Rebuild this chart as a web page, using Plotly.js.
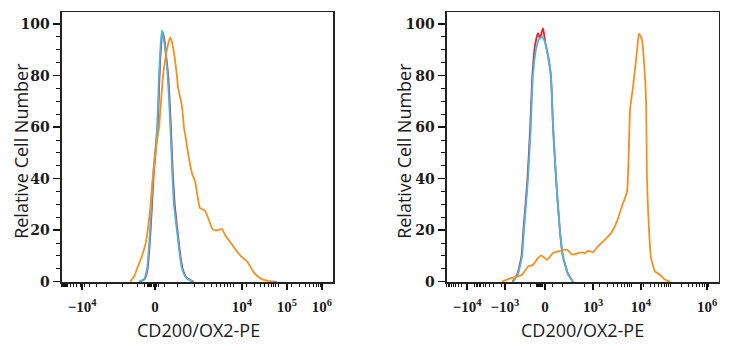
<!DOCTYPE html>
<html>
<head>
<meta charset="utf-8">
<script src="https://cdn.plot.ly/plotly-3.0.1.min.js"></script>
<style>html,body{margin:0;padding:0;background:#fff;}#chart{width:730px;height:350px;}</style>
</head>
<body>
<div id="chart"></div>
<script>
// ---- Data (x in display units of the biexponential axis, 0..100) ----
// Left panel
const leftRedX   = [28.6,30.5,31.6,32.7,33.8,35.3,36.0,36.6,37.1,37.8,38.5,39.2,40.1,40.9,41.6,42.6,43.7,44.5,46.0,48.5];
const leftRedY   = [0,1,5,20,41,60,80,92,97,94,87,80,62,42,30,20,10,5,1.5,0];
const leftBlueX  = [28.4,30.3,31.4,32.5,33.6,35.1,35.8,36.4,36.9,37.6,38.4,39.0,39.9,40.7,41.3,42.4,43.5,44.3,45.8,48.3];
const leftBlueY  = [0,1,5,20,41,60,80,92,97.7,94,87,80,62,42,30,20,10,5,1.5,0];
const leftOrangeX = [25.1,26.6,27.7,29.5,31.0,32.5,33.6,34.7,35.8,37.3,38.7,39.9,40.6,41.3,42.4,42.8,43.5,44.3,45.0,45.8,46.5,48.0,49.1,50.2,50.9,52.0,52.8,53.9,55.7,57.6,59.0,60.5,62.0,64.6,66.4,68.3,70.5,72.3,74.2,76.8,79.3];
const leftOrangeY = [0,2,5,10,15.5,28,41.5,52,60,80,90,94.7,93,89,80,75.6,72,68,60,55,50,42,38.9,32,28.6,28,27.5,24.8,20.2,20,20.5,17.5,15.5,11.7,9.5,7.9,4,2,0.8,0.2,0];
// Right panel
const rightRedX  = [24.1,25.9,27.4,28.1,29.6,30.6,31.4,32.4,33.5,34.2,35.3,36.1,37.1,38.2,39.0,40.1,41.5,42.6,44.5,46.3];
const rightRedY  = [0,3,10,20,40,60,80,92,96.5,94.5,98.4,93,88,80,60,40,20,10,3,0];
const rightBlueX = [24.3,26.1,27.6,28.3,29.8,30.8,31.6,32.7,33.8,34.9,36.0,37.1,38.2,39.0,40.1,41.5,42.6,44.5,46.3];
const rightBlueY = [0,3,10,20,40,60,80,90,94,95,93,88,80,60,40,20,10,3,0];
const rightOrangeX = [20.2,23.9,27.6,29.8,31.6,33.5,34.6,36.8,39.0,41.5,44.1,46.0,48.2,49.6,50.7,51.8,53.7,55.5,58.1,60.7,62.5,64.3,66.2,67.3,68.4,69.9,70.6,71.7,72.4,73.2,73.5,73.9,75.0,76.5,78.3,80.1,82.0];
const rightOrangeY = [0,1.5,2.7,5.9,6.6,9.2,10.2,8.5,11.1,12,12.4,10.5,11.1,11.4,11,12,11.5,13.7,16.3,19.5,23.4,29.2,35,66.7,75.7,89.9,96.4,93.8,86,70.5,41.5,28.6,9.3,4,2.7,0.8,0];

// Tick labels
const leftTickVals  = [7.4, 34.3, 66.4, 83.0, 95.9];
const leftTickText  = ['\u221210<sup>4</sup>', '0', '10<sup>4</sup>', '10<sup>5</sup>', '10<sup>6</sup>'];
const rightTickVals = [7.4, 21.3, 36.0, 53.7, 71.3, 95.6];
const rightTickText = ['\u221210<sup>4</sup>', '\u221210<sup>3</sup>', '0', '10<sup>3</sup>', '10<sup>4</sup>', '10<sup>6</sup>'];
const yTickVals = [0, 20, 40, 60, 80, 100];
const xTitle = 'CD200/OX2-PE';
const yTitle = 'Relative Cell Number';

// Decade boundaries used for minor tick pattern
const leftDecades  = [[0, 2.2, true], [2.2, 22.5, true], [42.8, 63.1, false], [63.1, 79.7, false], [79.7, 96.3, false]];
const leftLinear   = [22.5, 42.8];
const rightDecades = [[0, 10.3, true], [10.3, 20.2, true], [50.7, 68.0, false], [68.0, 82.0, false], [82.0, 96.0, false]];
const rightLinear  = [20.2, 50.7];

function minorTicks(decades, lin, center) {
  const out = [];
  decades.forEach(([a, b, neg]) => {
    for (let k = 2; k <= 9; k++) {
      const f = Math.log10(k);
      out.push(neg ? b - (b - a) * f : a + (b - a) * f);
    }
    out.push(a, b);
  });
  const [la, lb] = lin;
  for (let k = 1; k < 4; k++) out.push(la + (center - la) * Math.log10(1 + 9 * k / 4) );
  for (let k = 1; k < 4; k++) out.push(lb - (lb - center) * Math.log10(1 + 9 * k / 4) );
  for (let d = -1.6; d <= 1.6; d += 0.4) out.push(center + d);
  return out;
}

const RED = '#e3242b', BLUE = '#45b7e3', ORANGE = '#f39120';
function tr(x, y, c, xa, ya) {
  return {x: x, y: y, type: 'scatter', mode: 'lines', xaxis: xa, yaxis: ya,
          line: {color: c, width: 1.8, shape: 'spline', smoothing: 0.5}, hoverinfo: 'skip'};
}
const data = [
  tr(leftRedX, leftRedY, RED, 'x', 'y'),
  tr(leftBlueX, leftBlueY, BLUE, 'x', 'y'),
  tr(leftOrangeX, leftOrangeY, ORANGE, 'x', 'y'),
  tr(rightRedX, rightRedY, RED, 'x2', 'y2'),
  tr(rightBlueX, rightBlueY, BLUE, 'x2', 'y2'),
  tr(rightOrangeX, rightOrangeY, ORANGE, 'x2', 'y2')
];

const tickFontX = {family: 'Liberation Serif, serif', size: 15, color: '#1a1a1a', weight: 700};
const tickFontY = {family: 'DejaVu Serif, serif', size: 14, color: '#1a1a1a', weight: 700};
function xAxis(dom, vals, text, decs, lin, center) {
  return {domain: dom, range: [0, 100], showgrid: false, zeroline: false,
    showline: true, linecolor: '#222', linewidth: 1.5, mirror: true,
    tickmode: 'array', tickvals: vals, ticktext: text, ticks: 'outside', ticklen: 6, tickwidth: 1.5, tickcolor: '#111',
    tickfont: tickFontX, ticklabelstandoff: 4,
    minor: {tickmode: 'array', tickvals: minorTicks(decs, lin, center), ticks: 'outside', ticklen: 3, tickwidth: 1, tickcolor: '#111'}};
}
function yAxis(anchor) {
  return {domain: [0.1934, 0.9657], range: [-0.25, 104.7], anchor: anchor, showgrid: false, zeroline: false,
    showline: true, linecolor: '#222', linewidth: 1.5, mirror: true,
    tickmode: 'array', tickvals: yTickVals, ticks: 'outside', ticklen: 7, tickwidth: 1.5, tickcolor: '#111',
    tickfont: tickFontY, ticklabelstandoff: 1,
    minor: {dtick: 5, ticks: 'outside', ticklen: 4, tickwidth: 1, tickcolor: '#111'}};
}
const titleFont = {family: 'Open Sans, Noto Sans, sans-serif', size: 18, color: '#1a1a1a'};
const layout = {
  width: 730, height: 350, margin: {l: 0, r: 0, t: 0, b: 0},
  paper_bgcolor: '#fff', plot_bgcolor: '#fff', showlegend: false,
  xaxis: Object.assign(xAxis([0.0849, 0.4562], leftTickVals, leftTickText, leftDecades, leftLinear, 33.2), {anchor: 'y'}),
  xaxis2: Object.assign(xAxis([0.6123, 0.9849], rightTickVals, rightTickText, rightDecades, rightLinear, 34.5), {anchor: 'y2'}),
  yaxis: yAxis('x'),
  yaxis2: yAxis('x2'),
  annotations: [
    {text: xTitle, xref: 'paper', yref: 'paper', x: 198/730, y: 0.057, showarrow: false, font: titleFont, xanchor: 'center', yanchor: 'middle'},
    {text: xTitle, xref: 'paper', yref: 'paper', x: 582/730, y: 0.057, showarrow: false, font: titleFont, xanchor: 'center', yanchor: 'middle'},
    {text: yTitle, xref: 'paper', yref: 'paper', x: 21/730, y: 0.569, showarrow: false, font: titleFont, textangle: -90, xanchor: 'center', yanchor: 'middle'},
    {text: yTitle, xref: 'paper', yref: 'paper', x: 404/730, y: 0.569, showarrow: false, font: titleFont, textangle: -90, xanchor: 'center', yanchor: 'middle'}
  ]
};
Plotly.newPlot('chart', data, layout, {staticPlot: true, displayModeBar: false});
</script>
</body>
</html>
